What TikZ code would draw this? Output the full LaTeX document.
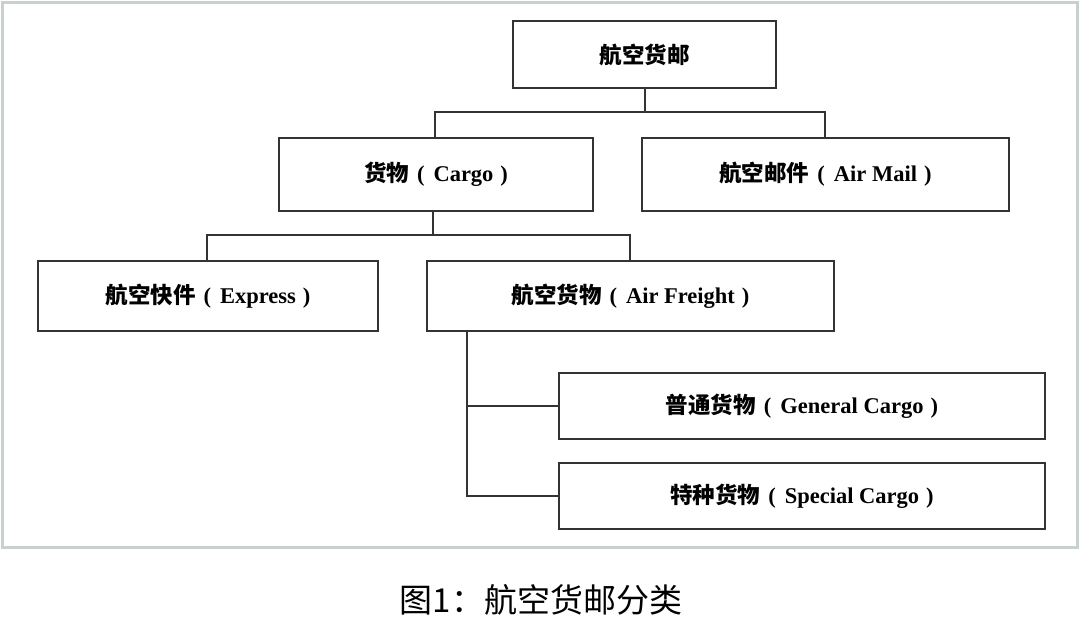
\documentclass[tikz,border=0pt]{standalone}
\usepackage{fontspec}
\setmainfont{Liberation Serif}
\newfontfamily\cjk{Noto Sans CJK SC}
\definecolor{framegray}{HTML}{C9D1CD}
\definecolor{linegray}{HTML}{333333}
\newcommand{\blab}[2]{{\cjk\bfseries #1}\hspace{8pt}{\bfseries(}\hspace{9pt}{\bfseries #2}\hspace{7pt}{\bfseries)}}
\begin{document}
\begin{tikzpicture}[x=1pt,y=-1pt,
  box/.style={draw=linegray,line width=2pt,fill=white,inner sep=0pt,anchor=north west},
  lbl/.style={font=\fontsize{22.5}{25}\selectfont},
  conn/.style={draw=linegray,line width=2pt}]
\useasboundingbox (0,0) rectangle (1080,625);
\fill[white] (0,0) rectangle (1080,625);
\draw[framegray,line width=3pt] (2,2) rectangle (1077,547);
% boxes
\node[box,minimum width=263pt,minimum height=67pt] (top) at (512,20) {};
\node[lbl] at (top.center) {\cjk\bfseries 航空货邮};
\node[box,minimum width=314pt,minimum height=73pt] (cargo) at (278,137) {};
\node[lbl] at (cargo.center) {\blab{货物}{Cargo}};
\node[box,minimum width=367pt,minimum height=73pt] (mail) at (641,137) {};
\node[lbl] at (mail.center) {\blab{航空邮件}{Air Mail}};
\node[box,minimum width=340pt,minimum height=70pt] (express) at (37,260) {};
\node[lbl] at (express.center) {\blab{航空快件}{Express}};
\node[box,minimum width=407pt,minimum height=70pt] (freight) at (426,260) {};
\node[lbl] at (freight.center) {\blab{航空货物}{Air Freight}};
\node[box,minimum width=486pt,minimum height=66pt] (general) at (558,372) {};
\node[lbl] at (general.center) {\blab{普通货物}{General Cargo}};
\node[box,minimum width=486pt,minimum height=66pt] (special) at (558,462) {};
\node[lbl] at (special.center) {\blab{特种货物}{Special Cargo}};
% connectors
\coordinate (j1) at (top.south |- 0,112);
\draw[conn] (top.south) -- (j1);
\draw[conn] (cargo.north -| 435,0) |- (j1) -| (mail.north -| 825,0);
\coordinate (j2) at (433,235);
\draw[conn] (cargo.south -| j2) -- (j2);
\draw[conn] (express.north -| 207,0) |- (j2) -| (freight.north -| 630,0);
\coordinate (j3) at (467,0);
\draw[conn] (freight.south -| j3) |- (special.west);
\draw[conn] (general.west) -- (general.west -| j3);
% caption
\node (cap) at (541,600) {\fontsize{33}{36}\selectfont\cjk 图1：航空货邮分类};
\end{tikzpicture}
\end{document}
